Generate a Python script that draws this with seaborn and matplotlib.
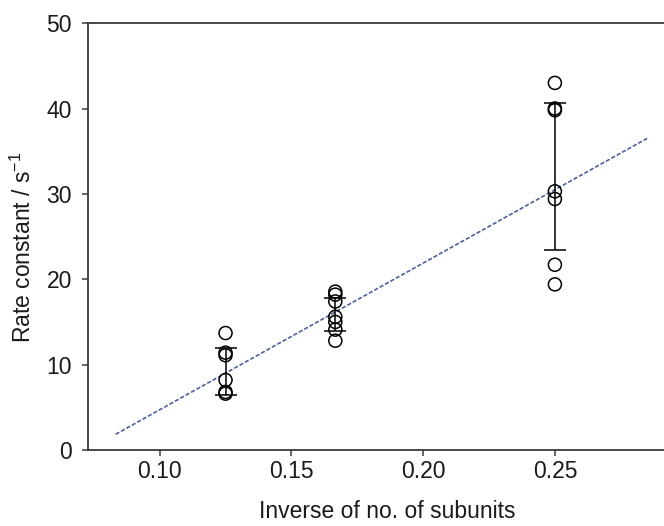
import matplotlib
matplotlib.use("Agg")
import matplotlib.pyplot as plt
import seaborn as sns
import numpy as np
import pandas as pd

# ---- data ----
x_a = [0.125] * 6
y_a = [13.7, 11.4, 11.1, 8.2, 6.8, 6.6]
x_b = [1 / 6] * 7
y_b = [18.55, 18.2, 17.4, 15.6, 15.0, 14.1, 12.8]
x_c = [0.25] * 7
y_c = [43.0, 40.0, 39.8, 30.3, 29.4, 21.7, 19.4]

group_x = [0.125, 1 / 6, 0.25]
group_mean = [9.2, 15.9, 32.0]
group_err = [2.7, 1.95, 8.6]

fit_x = [0.0833, 0.2850]
fit_y = [1.84, 36.5]

xticks = [0.10, 0.15, 0.20, 0.25]
xtick_labels = ["0.10", "0.15", "0.20", "0.25"]
yticks = [0, 10, 20, 30, 40, 50]

# ---- styling ----
sns.set_style("ticks")
plt.rcParams["font.family"] = ["Liberation Sans", "DejaVu Sans"]
plt.rcParams["mathtext.fontset"] = "custom"
plt.rcParams["mathtext.rm"] = "Liberation Sans"
plt.rcParams["mathtext.it"] = "Liberation Sans:italic"

df = pd.DataFrame({"x": x_a + x_b + x_c, "y": y_a + y_b + y_c})

fig = plt.figure(figsize=(6.64, 5.26), dpi=100)
ax = fig.add_axes([0.1325, 0.1445, 0.9016, 0.8115])

# regression line
sns.lineplot(x=fit_x, y=fit_y, ax=ax, color="#4f5f9c", linewidth=1.2,
             linestyle=(0, (2.5, 1.2)), sort=False, estimator=None)

# error bars
ax.errorbar(group_x, group_mean, yerr=group_err, fmt="none", ecolor="black",
            elinewidth=1.1, capsize=8, capthick=1.1, zorder=3)

# points
sns.scatterplot(data=df, x="x", y="y", ax=ax, marker="o", s=88,
                facecolor="none", edgecolor="black", linewidth=1.1, zorder=4)

ax.set_xlim(0.0728, 0.30)
ax.set_ylim(0, 50)
ax.set_xticks(xticks)
ax.set_xticklabels(xtick_labels)
ax.set_yticks(yticks)

for s in ["left", "bottom", "top", "right"]:
    ax.spines[s].set_visible(True)
    ax.spines[s].set_color("#3a3a3a")
    ax.spines[s].set_linewidth(1.3)

ax.tick_params(axis="both", labelsize=16.5, colors="#3a3a3a", labelcolor="#1a1a1a",
               length=4.5, width=1.1, direction="out")
ax.tick_params(axis="y", pad=7)
ax.tick_params(axis="x", pad=3)
ax.tick_params(top=False, right=False)

ax.set_xlabel("Inverse of no. of subunits", fontsize=16.5, color="#1a1a1a", labelpad=12)
ax.set_ylabel("Rate constant / s$^{-1}$", fontsize=16.5, color="#1a1a1a")
ax.yaxis.set_label_coords(-0.087, 0.475)

fig.savefig("out.png", dpi=100)
